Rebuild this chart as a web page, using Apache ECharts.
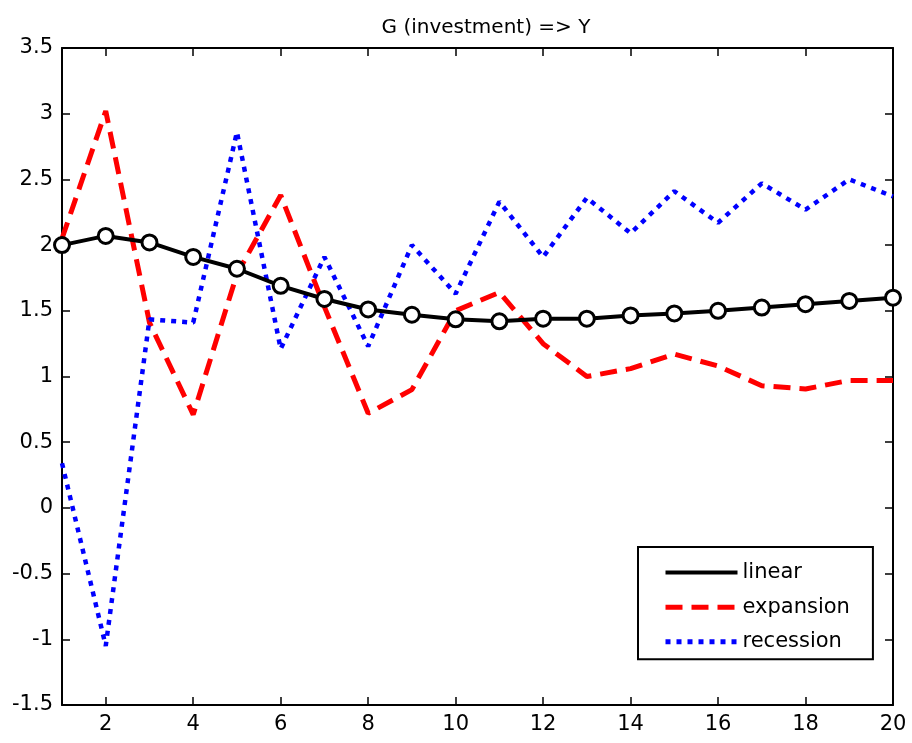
<!DOCTYPE html>
<html lang="en">
<head>
    <meta charset="UTF-8">
    <title>G (investment) => Y</title>
    <style>
        body { margin: 0; padding: 0; background: #fff; }
        #chart { width: 912px; height: 743px; }
    </style>
</head>
<body>
    <div id="chart"></div>
    <script src="https://cdn.jsdelivr.net/npm/echarts@6/dist/echarts.min.js"></script>
    <script>
        // horizon 1..20
        var periods = [1, 2, 3, 4, 5, 6, 7, 8, 9, 10, 11, 12, 13, 14, 15, 16, 17, 18, 19, 20];
        var linear = [2.00, 2.07, 2.02, 1.91, 1.82, 1.69, 1.59, 1.51, 1.47, 1.435, 1.42, 1.44, 1.44, 1.465, 1.48, 1.50, 1.525, 1.55, 1.575, 1.60];
        var expansion = [2.05, 3.02, 1.41, 0.71, 1.78, 2.38, 1.53, 0.72, 0.90, 1.50, 1.64, 1.25, 1.00, 1.06, 1.17, 1.08, 0.93, 0.905, 0.97, 0.97];
        var recession = [0.34, -1.05, 1.435, 1.41, 2.86, 1.21, 1.91, 1.23, 2.00, 1.63, 2.33, 1.91, 2.36, 2.09, 2.41, 2.17, 2.47, 2.27, 2.50, 2.37];
        var xTicks = [2, 4, 6, 8, 10, 12, 14, 16, 18, 20];

        function pairs(vals) {
            return periods.map(function (p, i) { return [p, vals[i]]; });
        }

        var font = 'DejaVu Sans, sans-serif';
        var chart = echarts.init(document.getElementById('chart'));

        var xBase = {
            type: 'value', min: 1, max: 20,
            axisLine: { onZero: false, lineStyle: { color: '#000', width: 2 } },
            axisTick: { inside: true, length: 8, customValues: xTicks, lineStyle: { color: '#000', width: 1.5 } },
            splitLine: { show: false }
        };
        var yBase = {
            type: 'value', min: -1.5, max: 3.5, interval: 0.5,
            axisLine: { show: true, onZero: false, lineStyle: { color: '#000', width: 2 } },
            axisTick: { show: true, inside: true, length: 8, lineStyle: { color: '#000', width: 1.5 } },
            splitLine: { show: false }
        };

        var option = {
            animation: false,
            backgroundColor: '#fff',
            title: {
                text: 'G (investment) => Y',
                left: 481, top: 13, textAlign: 'center',
                textStyle: { fontFamily: font, fontSize: 20, fontWeight: 'normal', color: '#000' }
            },
            grid: { left: 62, right: 19, top: 48, bottom: 38 },
            legend: {
                data: [
                    { name: 'linear', itemStyle: { opacity: 0 }, lineStyle: { width: 4 } },
                    { name: 'expansion', itemStyle: { opacity: 0 }, lineStyle: { width: 5 } },
                    { name: 'recession', itemStyle: { opacity: 0 }, lineStyle: { width: 5 } }
                ],
                orient: 'vertical',
                left: 638, top: 547,
                padding: [15, 23, 7, 25],
                itemGap: 13.5,
                itemWidth: 72, itemHeight: 24,
                borderColor: '#000', borderWidth: 2,
                backgroundColor: '#fff',
                textStyle: { fontFamily: font, fontSize: 21, color: '#000' }
            },
            xAxis: [
                Object.assign({}, xBase, {
                    position: 'bottom',
                    axisLabel: { customValues: xTicks, margin: 9, fontFamily: font, fontSize: 21, color: '#000' }
                }),
                Object.assign({}, xBase, { position: 'top', axisLabel: { show: false } })
            ],
            yAxis: [
                Object.assign({}, yBase, {
                    position: 'left',
                    axisLabel: { margin: 9, fontFamily: font, fontSize: 21, color: '#000' }
                }),
                Object.assign({}, yBase, { position: 'right', axisLabel: { show: false } })
            ],
            series: [
                {
                    name: 'linear', type: 'line', z: 5,
                    data: pairs(linear),
                    symbol: 'circle', symbolSize: 15, showAllSymbol: true,
                    itemStyle: { color: '#fff', borderColor: '#000', borderWidth: 3 },
                    lineStyle: { color: '#000', width: 4 }
                },
                {
                    name: 'expansion', type: 'line', z: 3,
                    data: pairs(expansion),
                    symbol: 'none',
                    itemStyle: { color: '#ff0000' },
                    lineStyle: { color: '#ff0000', width: 5, type: [17, 9] }
                },
                {
                    name: 'recession', type: 'line', z: 4,
                    data: pairs(recession),
                    symbol: 'none',
                    itemStyle: { color: '#0000ff' },
                    lineStyle: { color: '#0000ff', width: 4.5, type: [5, 6] }
                }
            ]
        };

        chart.setOption(option);
    </script>
</body>
</html>
